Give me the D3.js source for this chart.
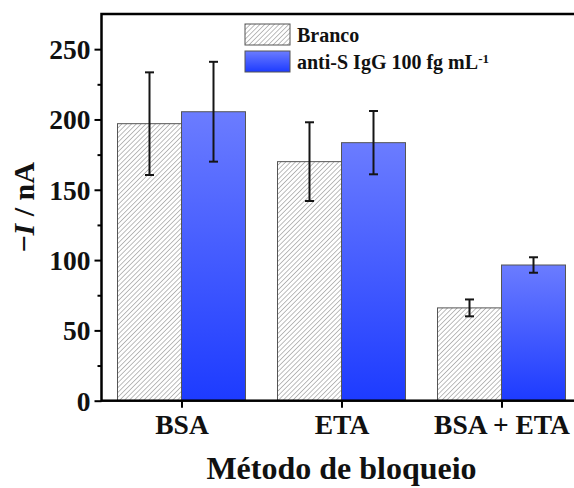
<!DOCTYPE html>
<html>
<head>
<meta charset="utf-8">
<script src="https://cdn.jsdelivr.net/npm/d3@7"></script>
<style>
  html, body { margin: 0; padding: 0; background: #fff; }
  svg { display: block; }
  text { font-family: "Liberation Serif", "Times New Roman", serif; font-weight: bold; fill: #111; }
</style>
</head>
<body>
<svg id="chart" width="574" height="488"></svg>
<script>
// Blocking methods on the x axis, with blank and anti-S IgG responses
const categories = ["BSA", "ETA", "BSA + ETA"];
const brancoValues = [197, 170, 66];
const brancoErrors = [36.5, 28, 6];
const igGValues = [205.5, 183.5, 96.5];
const igGErrors = [35.5, 22.5, 5.5];
const yTicks = [0, 50, 100, 150, 200, 250];
const yMinorTicks = [25, 75, 125, 175, 225];
const seriesNames = ["Branco", "anti-S IgG 100 fg mL"];

const svg = d3.select("#chart");
const plotLeft = 101.5, plotRight = 581.5, plotTop = 14, plotBottom = 400.7;

const x = d3.scaleLinear().domain([0.5, categories.length + 0.5]).range([plotLeft, plotRight]);
const y = d3.scaleLinear().domain([0, 275]).range([plotBottom, plotTop]);
const barW = 0.4; // in category units

const defs = svg.append("defs");
const hatch = defs.append("pattern")
  .attr("id", "hatch").attr("patternUnits", "userSpaceOnUse")
  .attr("width", 3.4).attr("height", 3.4)
  .attr("patternTransform", "rotate(45)");
hatch.append("rect").attr("width", 3.4).attr("height", 3.4).attr("fill", "#fff");
hatch.append("line").attr("x1", 0).attr("y1", 0).attr("x2", 0).attr("y2", 3.4)
  .attr("stroke", "#6a6a6a").attr("stroke-width", 0.9);

const grad = defs.append("linearGradient").attr("id", "blueGrad")
  .attr("x1", 0).attr("y1", 0).attr("x2", 0).attr("y2", 1);
grad.append("stop").attr("offset", "0%").attr("stop-color", "#6b7cff");
grad.append("stop").attr("offset", "100%").attr("stop-color", "#1d3bff");

const clip = defs.append("clipPath").attr("id", "frameClip");
clip.append("rect").attr("x", 0).attr("y", 0).attr("width", 574).attr("height", 488);

const idx = categories.map((c, i) => i);

// Bars
const g = svg.append("g");
g.selectAll("rect.branco").data(idx).join("rect")
  .attr("class", "branco")
  .attr("x", i => x(i + 1 - barW))
  .attr("width", x(1) - x(1 - barW))
  .attr("y", i => y(brancoValues[i]))
  .attr("height", i => y(0) - y(brancoValues[i]))
  .attr("fill", "url(#hatch)")
  .attr("stroke", "#555").attr("stroke-width", 1);

g.selectAll("rect.igg").data(idx).join("rect")
  .attr("class", "igg")
  .attr("x", i => x(i + 1))
  .attr("width", x(1 + barW) - x(1))
  .attr("y", i => y(igGValues[i]))
  .attr("height", i => y(0) - y(igGValues[i]))
  .attr("fill", "url(#blueGrad)")
  .attr("stroke", "#555").attr("stroke-width", 1);

// Error bars
function errorBars(values, errors, offset) {
  const eg = svg.append("g").attr("stroke", "#151515").attr("stroke-width", 2);
  idx.forEach(i => {
    const cx = x(i + 1 + offset);
    const hi = y(values[i] + errors[i]), lo = y(values[i] - errors[i]);
    eg.append("line").attr("x1", cx).attr("x2", cx).attr("y1", hi).attr("y2", lo);
    eg.append("line").attr("x1", cx - 4.5).attr("x2", cx + 4.5).attr("y1", hi).attr("y2", hi);
    eg.append("line").attr("x1", cx - 4.5).attr("x2", cx + 4.5).attr("y1", lo).attr("y2", lo);
  });
}
errorBars(brancoValues, brancoErrors, -barW / 2);
errorBars(igGValues, igGErrors, barW / 2);

// Axes
const yAxis = d3.axisLeft(y).tickValues(yTicks).tickSize(7).tickPadding(4).tickFormat(d3.format("d"));
const yg = svg.append("g").attr("transform", `translate(${plotLeft},0)`).call(yAxis);
yg.select(".domain").remove();
yg.selectAll(".tick line").attr("stroke", "#000").attr("stroke-width", 2);
yg.selectAll(".tick text").style("font-size", "27.5px").attr("dy", "0.34em");

const yMinor = d3.axisLeft(y).tickValues(yMinorTicks).tickSize(4).tickFormat("");
const ymg = svg.append("g").attr("transform", `translate(${plotLeft},0)`).call(yMinor);
ymg.select(".domain").remove();
ymg.selectAll(".tick line").attr("stroke", "#000").attr("stroke-width", 2);

const xAxis = d3.axisBottom(x).tickValues(idx.map(i => i + 1)).tickSize(7).tickPadding(7)
  .tickFormat(d => categories[d - 1]);
const xg = svg.append("g").attr("transform", `translate(0,${plotBottom})`).call(xAxis);
xg.select(".domain").remove();
xg.selectAll(".tick line").attr("stroke", "#000").attr("stroke-width", 2);
xg.selectAll(".tick text").style("font-size", "27.5px").attr("dy", "0.71em");

// Frame
const frame = svg.append("g").attr("clip-path", "url(#frameClip)");
frame.append("rect").attr("x", plotLeft).attr("y", plotTop)
  .attr("width", plotRight - plotLeft).attr("height", plotBottom - plotTop)
  .attr("fill", "none").attr("stroke", "#000").attr("stroke-width", 2.5);

// Axis titles
svg.append("text")
  .attr("x", (plotLeft + plotRight) / 2).attr("y", 479)
  .attr("text-anchor", "middle").style("font-size", "32px")
  .text("Método de bloqueio");

const yt = svg.append("text")
  .attr("transform", `translate(34,${(plotTop + plotBottom) / 2}) rotate(-90)`)
  .attr("text-anchor", "middle").style("font-size", "30px");
yt.append("tspan").text("\u2212");
yt.append("tspan").style("font-style", "italic").text("I");
yt.append("tspan").text(" / nA");

// Legend
const lg = svg.append("g");
const boxX = 245, boxW = 45, boxH = 21;
const rows = [{ fill: "url(#hatch)", y: 24 }, { fill: "url(#blueGrad)", y: 51 }];
rows.forEach((r, i) => {
  lg.append("rect").attr("x", boxX).attr("y", r.y).attr("width", boxW).attr("height", boxH)
    .attr("fill", r.fill).attr("stroke", "#555").attr("stroke-width", 1);
  const t = lg.append("text").attr("x", 297).attr("y", r.y + 18).style("font-size", "20px")
    .text(seriesNames[i]);
  if (i === 1) {
    t.append("tspan").attr("dy", "-0.5em").style("font-size", "13px").text("-1");
  }
});
</script>
</body>
</html>
